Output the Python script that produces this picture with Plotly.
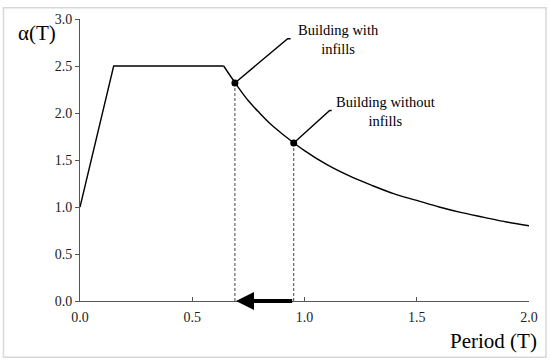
import plotly.graph_objects as go

# Spectrum data
period = [0.0, 0.15, 0.64, 0.70, 0.75, 0.80, 0.85, 0.90, 1.00, 1.10, 1.20, 1.30,
          1.40, 1.50, 1.60, 1.70, 1.80, 1.90, 2.00]
alpha = [1.0, 2.5, 2.5, 2.29, 2.13, 2.0, 1.88, 1.78, 1.6, 1.45, 1.33, 1.23,
         1.14, 1.07, 1.0, 0.94, 0.89, 0.84, 0.80]

# Marked buildings
bld_names = ["Building with<br>infills", "Building without<br>infills"]
bld_T = [0.69, 0.952]
bld_alpha = [2.32, 1.68]
label_T = [1.152, 1.362]
label_alpha = [2.78, 2.02]
leader_T = [0.925, 1.112]
leader_alpha = [2.79, 2.026]
leader_tick = [0.013, 0.009]

x_ticks = [0.0, 0.5, 1.0, 1.5, 2.0]
y_ticks = [0.0, 0.5, 1.0, 1.5, 2.0, 2.5, 3.0]

FONT = "Liberation Serif, Times New Roman, serif"

fig = go.Figure()

# main curve: linear pieces then smooth decay
fig.add_trace(go.Scatter(x=period[:3], y=alpha[:3], mode="lines",
                         line=dict(color="black", width=1.4), hoverinfo="skip"))
fig.add_trace(go.Scatter(x=period[2:], y=alpha[2:], mode="lines",
                         line=dict(color="black", width=1.4, shape="spline"),
                         hoverinfo="skip"))

# dashed drop lines
for t, a in zip(bld_T, bld_alpha):
    fig.add_trace(go.Scatter(x=[t, t], y=[0, a], mode="lines",
                             line=dict(color="#444", width=1, dash="3px,2px"),
                             hoverinfo="skip"))

# leader lines
for t, a, lt, la, tk in zip(bld_T, bld_alpha, leader_T, leader_alpha, leader_tick):
    fig.add_trace(go.Scatter(x=[t, lt, lt + tk], y=[a, la, la], mode="lines",
                             line=dict(color="black", width=1.4), hoverinfo="skip"))

# markers
fig.add_trace(go.Scatter(x=bld_T, y=bld_alpha, mode="markers",
                         marker=dict(color="black", size=7), hoverinfo="skip"))

for name, t, a in zip(bld_names, label_T, label_alpha):
    fig.add_annotation(x=t, y=a, text=name, showarrow=False, xanchor="center",
                       yanchor="middle", font=dict(family=FONT, size=14.5, color="black"))

# thick arrow along the axis
fig.add_annotation(x=bld_T[0] + 0.005, y=0, ax=bld_T[1], ay=0, axref="x", ayref="y",
                   xref="x", yref="y", text="", showarrow=True, arrowhead=2,
                   arrowsize=0.9, arrowwidth=4, arrowcolor="black")

# axis title positions in paper coordinates (pixel -> paper)
pw, ph = 449, 286
def px(xp):
    return (xp - 80) / pw
def py(yp):
    return (301 - yp) / ph

fig.add_annotation(x=px(37), y=py(29), xref="paper", yref="paper", text="α(T)",
                   xanchor="center", yanchor="middle",
                   showarrow=False, font=dict(family=FONT, size=21, color="black"))
fig.add_annotation(x=px(493), y=py(342), xref="paper", yref="paper", text="Period (T)",
                   xanchor="center", yanchor="middle",
                   showarrow=False, font=dict(family=FONT, size=21, color="black"))

fig.update_layout(
    width=550, height=363,
    margin=dict(l=80, r=21, t=15, b=62),
    paper_bgcolor="white", plot_bgcolor="white",
    showlegend=False,
    xaxis=dict(range=[0, 2.0], tickvals=x_ticks, ticktext=[f"{v:.1f}" for v in x_ticks],
               showgrid=False, zeroline=False, showline=True, linecolor="#555",
               linewidth=1, ticks="inside", ticklen=4, tickcolor="#555",
               ticklabelstandoff=3,
               tickfont=dict(family=FONT, size=14, color="#222")),
    yaxis=dict(range=[0, 3.0], tickvals=y_ticks, ticktext=[f"{v:.1f}" for v in y_ticks],
               showgrid=False, zeroline=False, showline=True, linecolor="#555",
               linewidth=1, ticks="outside", ticklen=4, tickcolor="#555",
               tickfont=dict(family=FONT, size=14, color="#222")),
)

# light frame around the whole figure
fig.add_shape(type="rect", xref="paper", yref="paper",
              x0=px(3.5), x1=px(546), y0=py(358), y1=py(3.5),
              line=dict(color="#d8d8d8", width=1.5), layer="above")

fig.write_html("out.html", config={"displayModeBar": False},
               post_script="document.body.style.margin='0';")
